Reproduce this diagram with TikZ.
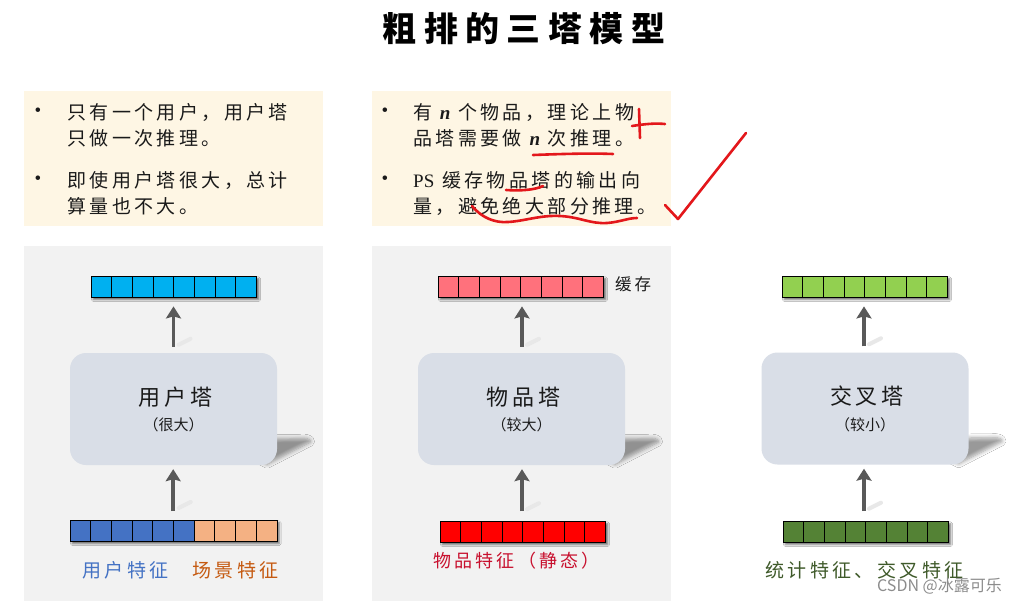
\documentclass[tikz,border=0pt]{standalone}
\usepackage{fontspec}
\setmainfont{Liberation Serif}
\newfontfamily\cjk[LetterSpace=18]{Noto Sans CJK SC}
\newfontfamily\cjkt[LetterSpace=22]{Noto Sans CJK SC}
\newfontfamily\cjkplain{Noto Sans CJK SC}
\newfontfamily\lat{Liberation Serif}
\usetikzlibrary{arrows.meta,shadows.blur,calc}

\definecolor{panelgray}{HTML}{F2F2F2}
\definecolor{cream}{HTML}{FEF6E4}
\definecolor{towerfill}{HTML}{D9DEE7}
\definecolor{arrowgray}{HTML}{595959}
\definecolor{cyanbar}{HTML}{00B0F0}
\definecolor{pinkbar}{HTML}{FF717C}
\definecolor{limebar}{HTML}{92D050}
\definecolor{bluebar}{HTML}{4472C4}
\definecolor{orangebar}{HTML}{F4B183}
\definecolor{redbar}{HTML}{FF0000}
\definecolor{greenbar}{HTML}{548235}
\definecolor{bluetext}{HTML}{4472C4}
\definecolor{orangetext}{HTML}{C55A11}
\definecolor{redtext}{HTML}{C8102E}
\definecolor{greentext}{HTML}{3F5A2A}
\definecolor{penred}{HTML}{E3171B}
\definecolor{ink}{HTML}{1A1A1A}

\tikzset{
  panel/.style={fill=panelgray, draw=none},
  note/.style={fill=cream, draw=none},
  tower/.style={rounded corners=16pt, fill=towerfill, draw=none, minimum width=207pt, minimum height=112pt, inner sep=0pt},
  towername/.style={inner sep=0pt, text=ink, font=\cjk\fontsize{22}{26}\selectfont},
  towersize/.style={inner sep=0pt, text=ink, font=\cjkplain\fontsize{15}{18}\selectfont},
  flow/.style={draw=arrowgray, line width=3.6pt, -{Stealth[length=12pt,width=15pt,inset=2pt]}},
  flowshadow/.style={draw=black!9, line width=4pt, line cap=round},
  bodytext/.style={anchor=west, inner sep=0pt, align=left, text=ink, font=\cjk\fontsize{19}{26}\selectfont},
  bullet/.style={anchor=center, inner sep=0pt, text=ink, font=\lat\fontsize{19}{26}\selectfont},
  label/.style={anchor=west, inner sep=0pt, font=\cjk\fontsize{19}{24}\selectfont},
  penstroke/.style={draw=penred, line width=2.6pt, line cap=round, line join=round},
  barbase/.style={inner sep=0pt, minimum height=21pt, anchor=north west, fill=black!40, draw=none,
    blur shadow={shadow xshift=2pt, shadow yshift=-2.5pt, shadow blur steps=4, shadow opacity=55}},
  towershade/.style={blur shadow={shadow xshift=0pt, shadow yshift=0pt, shadow blur radius=4pt, shadow blur steps=6, shadow opacity=40}},
}

% name, left x, top y, number of cells, colour list
\newcommand\cellbar[5]{%
  \pgfmathsetmacro\barw{#4*20.7}
  \node[barbase, minimum width=\barw pt] (#1) at (#2,#3) {};
  \foreach \c [count=\i from 0] in {#5} {
    \draw[fill=\c, line width=0.9pt] ($(#1.north west)+(\i*20.7,0)$) rectangle ++(20.7,21);
  }
}
% tower shadow, relative to south east of tower node
\newcommand\towershadow[1]{%
  \path[towershade]
    ($(#1.south east)+(-60,-26)$) -- ($(#1.south east)+(27,-27)$)
    to[out=0,in=50] ($(#1.south east)+(33,-23)$)
    -- ($(#1.south east)+(-10,-1)$) -- cycle;
}

\begin{document}
\begin{tikzpicture}[x=1pt,y=-1pt]
\useasboundingbox (0,0) rectangle (1029,603);
\fill[white] (0,0) rectangle (1029,603);

% title
\node[inner sep=0pt, text=black, font=\cjkt\bfseries\fontsize{34}{36}\selectfont] (title) at (524,29) {粗排的三塔模型};

% notes
\fill[note] (24,91) rectangle (323,226);
\fill[note] (372,91) rectangle (671,226);
\node[bullet] (b1) at (38,112) {•};
\node[bodytext] (t1) at (67,125) {只有一个用户，用户塔\\只做一次推理。};
\node[bullet] (b2) at (38,180) {•};
\node[bodytext] (t2) at (67,193) {即使用户塔很大，总计\\算量也不大。};
\node[bullet] (b3) at (385,112) {•};
\node[bodytext] (t3) at (413,125) {有 {\lat\bfseries\itshape n} 个物品，理论上物\\品塔需要做 {\lat\bfseries\itshape n} 次推理。};
\node[bullet] (b4) at (385,180) {•};
\node[bodytext] (t4) at (413,193) {{\lat PS} 缓存物品塔的输出向\\量，避免绝大部分推理。};

% panels
\fill[panel] (24,246) rectangle (323,601);
\fill[panel] (372,246) rectangle (671,601);

% ---------- user tower ----------
\cellbar{uo}{91}{276}{8}{cyanbar,cyanbar,cyanbar,cyanbar,cyanbar,cyanbar,cyanbar,cyanbar}
\cellbar{ui}{70}{520}{10}{bluebar,bluebar,bluebar,bluebar,bluebar,bluebar,orangebar,orangebar,orangebar,orangebar}
\node[tower, fill=none] (ut) at (173.5,409) {};
\towershadow{ut}
\node[tower] (utb) at (ut) {};
\node[towername] (utn) at ($(ut.center)+(2,-12)$) {用户塔};
\node[towersize] (uts) at ($(ut.center)+(0,16)$) {（很大）};
\draw[flowshadow] ($(ut.north)+(5,-8)$) -- ++(12,-6);
\draw[flow] ($(ut.north)+(0,-6)$) -- ($(ut.north |- uo.south)+(0,9)$);
\draw[flowshadow] ($(ui.north)+(5,-12)$) -- ++(12,-6);
\draw[flow] ($(ui.north)+(-0.5,-9)$) -- ($(ui.north |- ut.south)+(-0.5,4)$);
\node[label, text=bluetext] (ul1) at (82,570) {用户特征};
\node[label, text=orangetext] (ul2) at (192,570) {场景特征};

% ---------- item tower ----------
\cellbar{po}{438}{276}{8}{pinkbar,pinkbar,pinkbar,pinkbar,pinkbar,pinkbar,pinkbar,pinkbar}
\cellbar{pi}{440}{521}{8}{redbar,redbar,redbar,redbar,redbar,redbar,redbar,redbar}
\node[tower, fill=none] (pt) at (521.5,409) {};
\towershadow{pt}
\node[tower] (ptb) at (pt) {};
\node[towername] (ptn) at ($(pt.center)+(2,-12)$) {物品塔};
\node[towersize] (pts) at ($(pt.center)+(0,16)$) {（较大）};
\node[label, text=ink, font=\cjk\fontsize{16.5}{20}\selectfont] (cache) at (615,284) {缓存};
\draw[flowshadow] ($(pt.north)+(5.5,-8)$) -- ++(12,-6);
\draw[flow] ($(pt.north)+(0.5,-6)$) -- ($(pt.north |- po.south)+(0.5,9)$);
\draw[flowshadow] ($(pt.south)+(5.5,44)$) -- ++(12,-6);
\draw[flow] ($(pi.north -| pt.north)+(0.5,-10)$) -- ($(pt.south)+(0.5,4)$);
\node[label, text=redtext, font=\cjk\fontsize{18}{22}\selectfont] (pl) at (433,561) {物品特征（静态）};

% ---------- cross tower ----------
\cellbar{co}{782}{276}{8}{limebar,limebar,limebar,limebar,limebar,limebar,limebar,limebar}
\cellbar{ci}{783}{521}{8}{greenbar,greenbar,greenbar,greenbar,greenbar,greenbar,greenbar,greenbar}
\node[tower, fill=none] (ct) at (865,408.5) {};
\towershadow{ct}
\node[tower] (ctb) at (ct) {};
\node[towername] (ctn) at ($(ct.center)+(2,-12)$) {交叉塔};
\node[towersize] (cts) at ($(ct.center)+(0,16)$) {（较小）};
\draw[flowshadow] ($(ct.north)+(4,-8)$) -- ++(12,-6);
\draw[flow] ($(ct.north)+(-1,-6)$) -- ($(ct.north |- co.south)+(-1,9)$);
\draw[flowshadow] ($(ct.south)+(4,44)$) -- ++(12,-6);
\draw[flow] ($(ci.north -| ct.north)+(-1,-10)$) -- ($(ct.south)+(-1,4)$);
\node[label, text=greentext] (cl) at (765,570) {统计特征、交叉特征};

% watermark
\node[anchor=west, inner sep=0pt, text=black!45, font=\cjkplain\fontsize{16}{18}\selectfont] (wm) at (877,586) {CSDN @冰露可乐};

% ---------- red pen annotations ----------
\draw[penstroke] (639,109) -- (640,138);
\draw[penstroke] (632,126) .. controls (645,124) and (655,123) .. (665,124);
\draw[penstroke] (533,155) .. controls (560,154) and (590,153) .. (613,154);
\draw[penstroke] (506,190) .. controls (520,191) and (535,190) .. (543,186);
\draw[penstroke] (472,206) .. controls (482,218) and (495,223) .. (508,222)
  .. controls (525,221) and (540,215) .. (560,216)
  .. controls (580,217) and (590,224) .. (607,223)
  .. controls (620,222) and (628,218) .. (637,218);
\draw[penstroke] (665,205) -- (678,219) -- (746,133);
\end{tikzpicture}
\end{document}
